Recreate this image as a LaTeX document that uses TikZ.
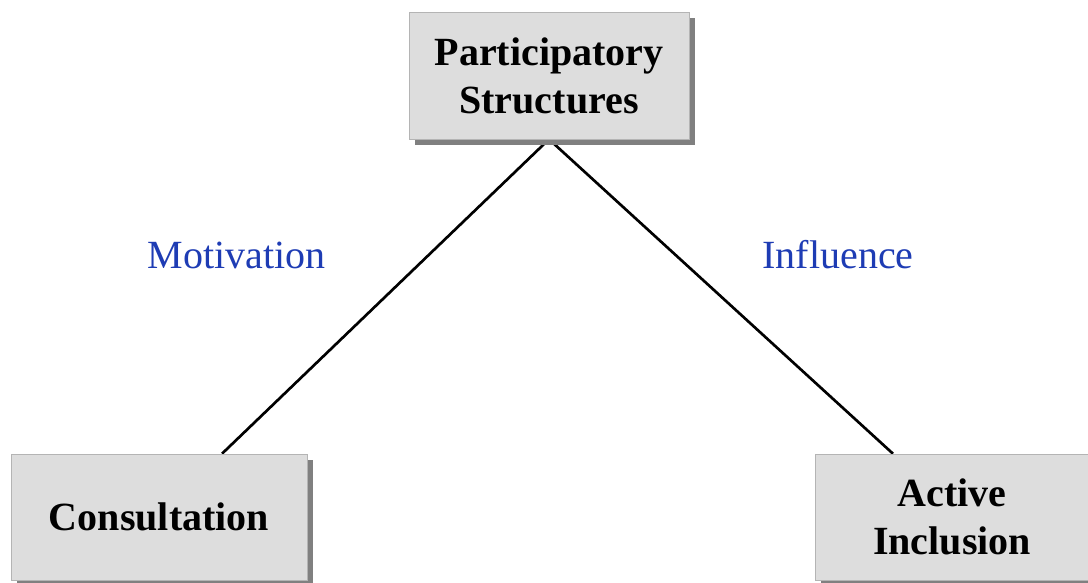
\documentclass[tikz,border=0pt]{standalone}
\usepackage{fontspec}
\setmainfont{Liberation Serif}
\usetikzlibrary{shadows,backgrounds,calc}
\definecolor{boxfill}{HTML}{DDDDDD}
\definecolor{boxline}{HTML}{B4B4B4}
\definecolor{labelblue}{HTML}{1E3CB4}

\begin{document}
\begin{tikzpicture}[x=0.75pt, y=-0.75pt,
  box/.style={rectangle, draw=boxline, fill=boxfill, align=center, inner sep=0pt,
    minimum width=#1, minimum height=94.5pt, font=\fontsize{30}{36}\selectfont\bfseries,
    drop shadow={shadow xshift=4.5pt, shadow yshift=-4.5pt, fill=black!50, opacity=1}},
  lbl/.style={text=labelblue, font=\fontsize{30}{36}\selectfont, anchor=base},
  link/.style={draw=black, line width=2pt}
]
  \useasboundingbox (0,0) rectangle (1088,582);
  \node[box=210pt, minimum height=95.25pt] (part) at (549,75.5) {Participatory\\Structures};
  \node[box=222pt] (cons) at (159,517) {Consultation};
  \node[box=205.5pt] (incl) at (952,517) {Active\\Inclusion};
  \node[lbl] (motiv) at (236.5,268) {Motivation};
  \node[lbl] (infl) at (838,268) {Influence};
  \begin{scope}[on background layer]
    \draw[link] (part.south) -- ($(cons.north)+(63,0)$);
    \draw[link] (part.south) -- ($(incl.north)+(-59,0)$);
  \end{scope}
\end{tikzpicture}
\end{document}
